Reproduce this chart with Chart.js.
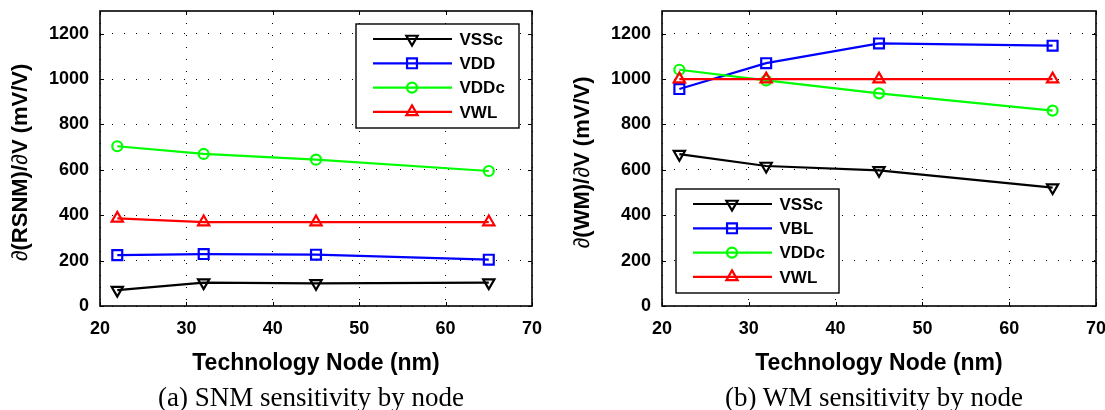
<!DOCTYPE html>
<html>
<head>
<meta charset="utf-8">
<script src="https://cdn.jsdelivr.net/npm/chart.js@4.4.1/dist/chart.umd.min.js"></script>
<style>
  html, body {
    margin: 0;
    padding: 0;
    background: #ffffff;
  }
  body {
    position: relative;
    width: 1105px;
    height: 410px;
    overflow: hidden;
  }
  canvas {
    position: absolute;
    top: 0;
  }
  #snmChart { left: 0; }
  #wmChart { left: 553px; }
  .caption {
    position: absolute;
    top: 384px;
    width: 500px;
    text-align: center;
    font-family: "Liberation Serif", "Times New Roman", serif;
    font-size: 27px;
    line-height: 27px;
    color: #000;
    white-space: nowrap;
  }
</style>
</head>
<body>
<canvas id="snmChart" width="560" height="410"></canvas>
<canvas id="wmChart" width="580" height="410"></canvas>
<div class="caption" style="left:61px">(a) SNM sensitivity by node</div>
<div class="caption" style="left:624px">(b) WM sensitivity by node</div>

<script>
// technology nodes (nm)
const nodes = [22, 32, 45, 65];
const xTicks = [20, 30, 40, 50, 60, 70];
const yTicks = [0, 200, 400, 600, 800, 1000, 1200];

// (a) d(RSNM)/dV, mV/V
const snmLabels = ["VSSc", "VDD", "VDDc", "VWL"];
const snmVSSc = [70, 103, 100, 103];
const snmVDD = [224, 229, 226, 204];
const snmVDDc = [704, 670, 645, 595];
const snmVWL = [386, 370, 370, 370];

// (b) d(WM)/dV, mV/V
const wmLabels = ["VSSc", "VBL", "VDDc", "VWL"];
const wmVSSc = [669, 617, 598, 522];
const wmVBL = [956, 1070, 1157, 1147];
const wmVDDc = [1041, 994, 937, 861];
const wmVWL = [1000, 1000, 1000, 1000];

const seriesStyles = [
  { color: "#000000", pointStyle: "triangle", rotation: 180, radius: 6.5 },
  { color: "#0000ff", pointStyle: "rect", rotation: 0, radius: 7 },
  { color: "#00ff00", pointStyle: "circle", rotation: 0, radius: 5 },
  { color: "#ff0000", pointStyle: "triangle", rotation: 0, radius: 6.5 }
];

const FONT = "'Liberation Sans', Arial, Helvetica, sans-serif";

function buildDatasets(labels, seriesList) {
  return labels.map((label, i) => {
    const st = seriesStyles[i];
    return {
      label,
      data: nodes.map((n, k) => ({ x: n, y: seriesList[i][k] })),
      borderColor: st.color,
      backgroundColor: st.color,
      borderWidth: 2.2,
      pointStyle: st.pointStyle,
      pointRotation: st.rotation,
      pointRadius: st.radius,
      pointHoverRadius: st.radius,
      pointBorderWidth: 2.2,
      pointBorderColor: st.color,
      pointBackgroundColor: "rgba(0,0,0,0)",
      order: labels.length - i,
      tension: 0
    };
  });
}

function drawMarker(ctx, st, x, y) {
  const r = st.radius;
  ctx.beginPath();
  if (st.pointStyle === "circle") {
    ctx.arc(x, y, r, 0, Math.PI * 2);
  } else if (st.pointStyle === "rect") {
    const s = r * Math.SQRT1_2;
    ctx.rect(x - s, y - s, 2 * s, 2 * s);
  } else {
    let rad = (st.rotation * Math.PI) / 180;
    for (let k = 0; k < 3; k++) {
      const px = x + Math.sin(rad) * r;
      const py = y - Math.cos(rad) * r;
      if (k === 0) ctx.moveTo(px, py);
      else ctx.lineTo(px, py);
      rad += (2 * Math.PI) / 3;
    }
    ctx.closePath();
  }
  ctx.stroke();
}

// y title: the partial sign is set in regular weight, the rest bold
function drawYTitle(ctx, text, x, cy) {
  const parts = text.split(/(\u2202)/).filter((p) => p.length);
  const fontFor = (p) => (p === "\u2202" ? "22px " : "bold 22px ") + FONT;
  let total = 0;
  parts.forEach((p) => {
    ctx.font = fontFor(p);
    total += ctx.measureText(p).width;
  });
  ctx.save();
  ctx.translate(x, cy);
  ctx.rotate(-Math.PI / 2);
  ctx.fillStyle = "#000";
  ctx.textAlign = "left";
  ctx.textBaseline = "middle";
  let pos = -total / 2;
  parts.forEach((p) => {
    ctx.font = fontFor(p);
    ctx.fillText(p, pos, 0);
    pos += ctx.measureText(p).width;
  });
  ctx.restore();
}

// box, inner tick marks, y title and the MATLAB style legend
const framePlugin = {
  id: "frame",
  afterDraw(chart, args, opts) {
    const ctx = chart.ctx;
    const area = chart.chartArea;
    const xs = chart.scales.x;
    const ys = chart.scales.y;

    ctx.save();
    ctx.setLineDash([]);
    ctx.strokeStyle = "#000";
    ctx.lineWidth = 1;
    xs.ticks.forEach((t) => {
      const px = Math.round(xs.getPixelForValue(t.value)) + 0.5;
      ctx.beginPath();
      ctx.moveTo(px, area.bottom);
      ctx.lineTo(px, area.bottom - 4);
      ctx.moveTo(px, area.top);
      ctx.lineTo(px, area.top + 4);
      ctx.stroke();
    });
    ys.ticks.forEach((t) => {
      const py = Math.round(ys.getPixelForValue(t.value)) + 0.5;
      ctx.beginPath();
      ctx.moveTo(area.left, py);
      ctx.lineTo(area.left + 4, py);
      ctx.moveTo(area.right, py);
      ctx.lineTo(area.right - 4, py);
      ctx.stroke();
    });

    ctx.lineWidth = 1.6;
    ctx.strokeRect(area.left, area.top, area.right - area.left, area.bottom - area.top);

    drawYTitle(ctx, opts.yTitle, area.left - 79, (area.top + area.bottom) / 2 + 4);

    // legend
    const bx = area.left + opts.dx;
    const by = area.top + opts.dy;
    ctx.fillStyle = "#fff";
    ctx.fillRect(bx, by, opts.w, opts.h);
    ctx.lineWidth = 1.4;
    ctx.strokeStyle = "#000";
    ctx.strokeRect(bx, by, opts.w, opts.h);

    ctx.font = "bold 17px " + FONT;
    ctx.textBaseline = "middle";
    ctx.textAlign = "left";
    chart.data.datasets.forEach((ds, i) => {
      const st = seriesStyles[i];
      const ry = by + 15 + i * 24.3;
      ctx.strokeStyle = st.color;
      ctx.lineWidth = 2.2;
      ctx.beginPath();
      ctx.moveTo(bx + 17, ry);
      ctx.lineTo(bx + 96, ry);
      ctx.stroke();
      drawMarker(ctx, st, bx + 56, ry);
      ctx.fillStyle = "#000";
      ctx.fillText(ds.label, bx + 103.5, ry + 1);
    });
    ctx.restore();
  }
};

function makeChart(canvasId, datasets, yTitle, legendBox, pad) {
  const ctx = document.getElementById(canvasId);
  return new Chart(ctx, {
    type: "line",
    data: { datasets },
    options: {
      responsive: false,
      animation: false,
      events: [],
      layout: {
        padding: { left: pad.left, right: pad.right, top: 11, bottom: 33 }
      },
      plugins: {
        legend: { display: false },
        tooltip: { enabled: false },
        frame: Object.assign({ yTitle }, legendBox)
      },
      scales: {
        x: {
          type: "linear",
          min: 20,
          max: 70,
          afterBuildTicks: (scale) => {
            scale.ticks = xTicks.map((v) => ({ value: v }));
          },
          afterFit: (scale) => {
            scale.height = 71;
          },
          grid: { color: "#000", lineWidth: 1, drawTicks: false },
          border: { display: false, dash: [1, 11] },
          ticks: {
            color: "#000",
            padding: 12,
            maxRotation: 0,
            callback: (v) => String(v),
            font: { family: FONT, size: 18, weight: "bold" }
          },
          title: {
            display: true,
            text: "Technology Node (nm)",
            color: "#000",
            padding: { top: 0, bottom: 0 },
            font: { family: FONT, size: 23, weight: "bold" }
          }
        },
        y: {
          min: 0,
          max: 1300,
          afterBuildTicks: (scale) => {
            scale.ticks = yTicks.map((v) => ({ value: v }));
          },
          afterFit: (scale) => {
            scale.width = pad.yWidth;
            scale.paddingTop = 0;
            scale.paddingBottom = 0;
          },
          grid: { color: "#000", lineWidth: 1, drawTicks: false },
          border: { display: false, dash: [1, 11] },
          ticks: {
            color: "#000",
            padding: 11,
            callback: (v) => String(v),
            font: { family: FONT, size: 18, weight: "bold" }
          }
        }
      }
    },
    plugins: [framePlugin]
  });
}

makeChart(
  "snmChart",
  buildDatasets(snmLabels, [snmVSSc, snmVDD, snmVDDc, snmVWL]),
  "\u2202(RSNM)/\u2202V (mV/V)",
  { dx: 256, dy: 13, w: 163, h: 104 },
  { left: 4, right: 28, yWidth: 96 }
);

makeChart(
  "wmChart",
  buildDatasets(wmLabels, [wmVSSc, wmVBL, wmVDDc, wmVWL]),
  "\u2202(WM)/\u2202V (mV/V)",
  { dx: 14, dy: 178, w: 163, h: 104 },
  { left: 14, right: 37, yWidth: 95 }
);
</script>
</body>
</html>
